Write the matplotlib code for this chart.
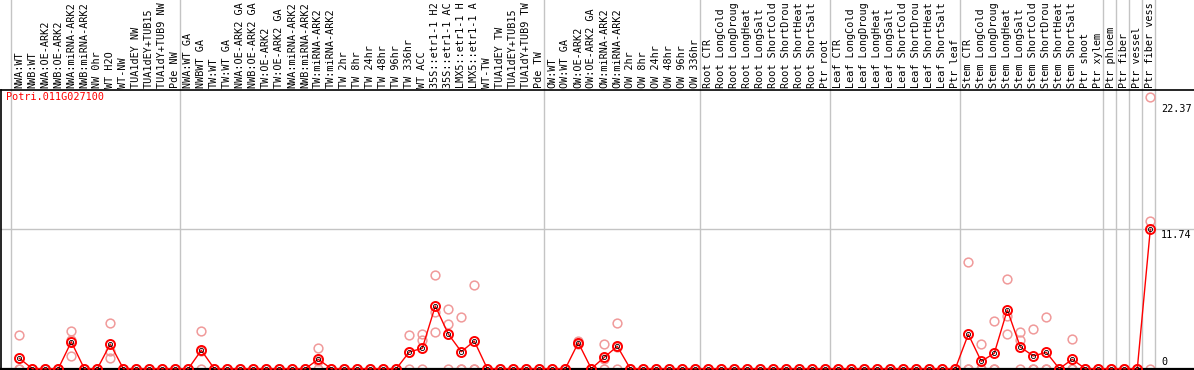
import matplotlib
matplotlib.use("Agg")
import matplotlib.pyplot as plt
import matplotlib.transforms as mtransforms
import numpy as np

# ---------------- data ----------------
labels = [
    "NWA:WT", "NWB:WT", "NWA:OE-ARK2", "NWB:OE-ARK2", "NWA:miRNA-ARK2", "NWB:miRNA-ARK2",
    "NW 0hr", "WT H2O", "WT-NW", "TUA1dEY NW", "TUA1dEY+TUB15", "TUA1dY+TUB9 NW", "Pde NW",
    "NWA:WT GA", "NWBWT GA", "TW:WT", "TW:WT GA", "NWA:OE-ARK2 GA", "NWB:OE-ARK2 GA",
    "TW:OE-ARK2", "TW:OE-ARK2 GA", "NWA:miRNA-ARK2", "NWB:miRNA-ARK2", "TW:miRNA-ARK2",
    "TW:miRNA-ARK2", "TW 2hr", "TW 8hr", "TW 24hr", "TW 48hr", "TW 96hr", "TW 336hr", "WT ACC",
    "35S::etr1-1 H2", "35S::etr1-1 AC", "LMX5::etr1-1 H", "LMX5::etr1-1 A", "WT-TW",
    "TUA1dEY TW", "TUA1dEY+TUB15", "TUA1dY+TUB9 TW", "Pde TW",
    "OW:WT", "OW:WT GA", "OW:OE-ARK2", "OW:OE-ARK2 GA", "OW:miRNA-ARK2", "OW:miRNA-ARK2",
    "OW 2hr", "OW 8hr", "OW 24hr", "OW 48hr", "OW 96hr", "OW 336hr",
    "Root CTR", "Root LongCold", "Root LongDroug", "Root LongHeat", "Root LongSalt",
    "Root ShortCold", "Root ShortDrou", "Root ShortHeat", "Root ShortSalt", "Ptr root",
    "Leaf CTR", "Leaf LongCold", "Leaf LongDroug", "Leaf LongHeat", "Leaf LongSalt",
    "Leaf ShortCold", "Leaf ShortDrou", "Leaf ShortHeat", "Leaf ShortSalt", "Ptr leaf",
    "Stem CTR", "Stem LongCold", "Stem LongDroug", "Stem LongHeat", "Stem LongSalt",
    "Stem ShortCold", "Stem ShortDrou", "Stem ShortHeat", "Stem ShortSalt", "Ptr shoot",
    "Ptr xylem", "Ptr phloem", "Ptr fiber", "Ptr vessel", "Ptr fiber vess",
]

# mean expression per sample
mean_values = [
    0.88, 0, 0, 0, 2.27, 0, 0, 2.08, 0, 0, 0, 0, 0,
    0, 1.55, 0, 0, 0, 0, 0, 0, 0, 0, 0.79, 0, 0, 0, 0, 0, 0, 1.41, 1.72,
    5.28, 2.92, 1.43, 2.33, 0, 0, 0, 0, 0,
    0, 0, 2.19, 0, 0.96, 1.89, 0, 0, 0, 0, 0, 0,
    0, 0, 0, 0, 0, 0, 0, 0, 0, 0,
    0, 0, 0, 0, 0, 0, 0, 0, 0, 0,
    2.90, 0.62, 1.30, 4.95, 1.83, 1.07, 1.38, 0, 0.79, 0, 0,
    0, 0, 0, 11.74,
]

# replicate values (three per sample)
rep1 = [
    2.81, 0, 0, 0, 3.18, 0, 0, 3.82, 0, 0, 0, 0, 0,
    0, 3.15, 0, 0, 0, 0, 0, 0, 0, 0, 1.72, 0, 0, 0, 0, 0, 0, 2.84, 2.90,
    7.87, 5.00, 4.36, 7.05, 0, 0, 0, 0, 0,
    0, 0, 2.35, 0, 2.08, 3.85, 0, 0, 0, 0, 0, 0,
    0, 0, 0, 0, 0, 0, 0, 0, 0, 0,
    0, 0, 0, 0, 0, 0, 0, 0, 0, 0,
    8.96, 2.06, 3.99, 7.53, 3.09, 3.34, 4.36, 0, 2.50, 0, 0,
    0, 0, 0, 22.85,
]
rep2 = [
    0, 0, 0, 0, 2.42, 0, 0, 1.52, 0, 0, 0, 0, 0,
    0, 1.50, 0, 0, 0, 0, 0, 0, 0, 0, 0.66, 0, 0, 0, 0, 0, 0, 1.40, 2.44,
    4.80, 3.77, 0, 0, 0, 0, 0, 0, 0,
    0, 0, 2.20, 0, 0.80, 1.82, 0, 0, 0, 0, 0, 0,
    0, 0, 0, 0, 0, 0, 0, 0, 0, 0,
    0, 0, 0, 0, 0, 0, 0, 0, 0, 0,
    0, 0, 0, 4.44, 2.39, 0, 0, 0, 0, 0, 0,
    0, 0, 0, 12.42,
]
rep3 = [
    0, 0, 0, 0, 1.04, 0, 0, 0.88, 0, 0, 0, 0, 0,
    0, 0, 0, 0, 0, 0, 0, 0, 0, 0, 0, 0, 0, 0, 0, 0, 0, 0, 0,
    3.09, 0, 0, 0, 0, 0, 0, 0, 0,
    0, 0, 2.05, 0, 0, 0, 0, 0, 0, 0, 0, 0,
    0, 0, 0, 0, 0, 0, 0, 0, 0, 0,
    0, 0, 0, 0, 0, 0, 0, 0, 0, 0,
    0, 0, 0, 2.90, 0, 0, 0, 0, 0, 0, 0,
    0, 0, 0, 0,
]

group_starts = [0, 13, 41, 53, 63, 73, 84, 85, 86, 87, 88]
axis_labels = ["22.37", "11.74", "0"]
axis_values = [22.37, 11.74, 0]
gene_id = "Potri.011G027100"

# ---------------- figure ----------------
W, H = 1194, 370
fig = plt.figure(figsize=(W / 100, H / 100), dpi=100)
MONO = "DejaVu Sans Mono"
FS = 7.3


def rect(x0, ytop, x1, ybot):
    return [x0 / W, 1 - ybot / H, (x1 - x0) / W, (ybot - ytop) / H]


x0px, step = 19.3, 13.0
xlim = ((1 - x0px) / step, (W - x0px) / step)
ppu = 11.87
ybot_px, ytop_px = 368.7, 90

ax = fig.add_axes(rect(1, ytop_px, W, ybot_px))
axh = fig.add_axes(rect(1, 0, W, ytop_px))

x = np.arange(len(labels))
ax.set_xlim(*xlim)
ax.set_ylim(0, (ybot_px - ytop_px) / ppu)
axh.set_xlim(*xlim)
axh.set_ylim(0, 1)
axh.axis("off")

grid_c = "#c4c4c4"
for b in group_starts:
    ax.axvline(b - 0.64, color=grid_c, lw=1, zorder=1)
    axh.axvline(b - 0.64, color=grid_c, lw=1, zorder=1)
ax.axhline(axis_values[1], color=grid_c, lw=1, zorder=1)

# replicates
for reps in (rep1, rep2, rep3):
    ax.plot(x, reps, ls="none", marker="o", ms=6.3, mfc="none", mec="#f09a9a",
            mew=1.1, zorder=2, clip_on=False)

# mean line
ax.plot(x, mean_values, color="red", lw=1.0, zorder=3, clip_on=False)
ax.plot(x, mean_values, ls="none", marker="o", ms=6.5, mfc="none", mec="red",
        mew=1.4, zorder=4, clip_on=False)
ax.plot(x, mean_values, ls="none", marker="o", ms=3.0, mfc="none", mec="black",
        mew=0.6, zorder=5, clip_on=False)

ax.spines["right"].set_visible(False)
ax.spines["bottom"].set_linewidth(1.6)
ax.spines["left"].set_linewidth(1.2)
ax.spines["top"].set_linewidth(1.2)
ax.set_xticks([])
ax.set_yticks([])
ax.set_zorder(2)
ax.patch.set_alpha(0)

# header labels
for i, lab in enumerate(labels):
    axh.text(i, 2 / 90, lab, rotation=90, ha="center", va="bottom",
             family=MONO, fontsize=FS, color="black", clip_on=True)

# right axis labels
trans = mtransforms.blended_transform_factory(ax.transAxes, ax.transData)
xl = (1161 - 1) / (W - 1)
for lab, v in zip(axis_labels, axis_values):
    if v == 0:
        ax.annotate(lab, xy=(xl, v), xycoords=trans, xytext=(0, 1.5),
                    textcoords="offset points", ha="left", va="bottom",
                    family=MONO, fontsize=FS, annotation_clip=False)
    else:
        ax.annotate(lab, xy=(xl, v), xycoords=trans, xytext=(0, -0.5),
                    textcoords="offset points", ha="left", va="top",
                    family=MONO, fontsize=FS, annotation_clip=False)

fig.text(6 / W, 1 - 97.5 / H, gene_id, color="red", family=MONO, fontsize=FS,
         ha="left", va="center")

fig.savefig("out.png", dpi=100)
